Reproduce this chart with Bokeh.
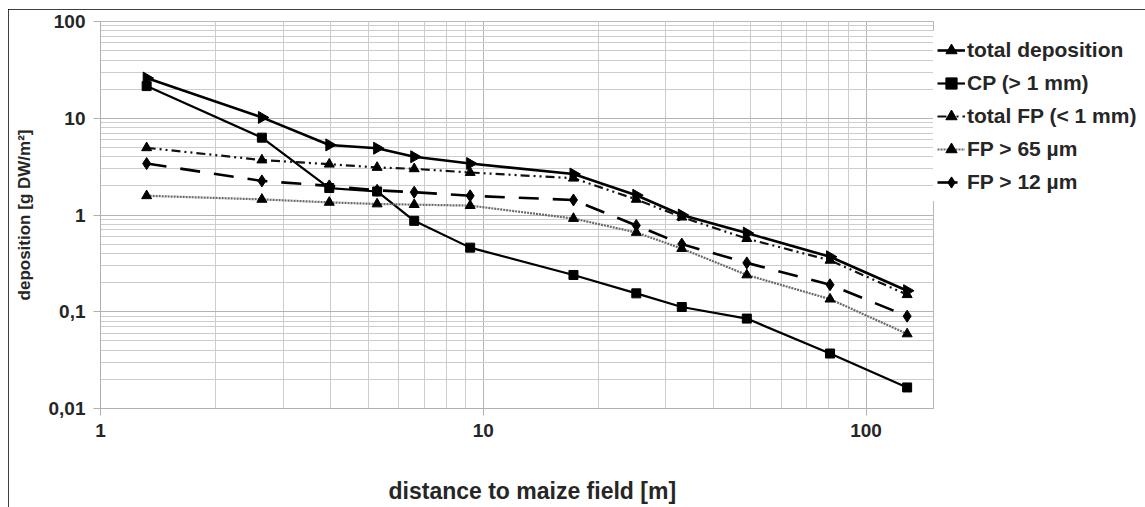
import math
from bokeh.plotting import figure
from bokeh.models import (FixedTicker, CustomJSTickFormatter, Legend, LegendItem,
                          Range1d, Title)
from bokeh.embed import file_html
from bokeh.resources import INLINE

# ---- data ----
distance = [1.32, 2.64, 3.96, 5.28, 6.6, 9.24, 17.2, 25.1, 33.0, 48.8, 80.5, 128]
total_deposition = [26, 10.2, 5.3, 4.9, 4.0, 3.4, 2.65, 1.6, 1.0, 0.65, 0.37, 0.165]
cp_gt_1mm = [21.5, 6.3, 1.9, 1.75, 0.87, 0.46, 0.24, 0.155, 0.112, 0.085, 0.037, 0.0165]
total_fp = [4.95, 3.7, 3.35, 3.1, 3.0, 2.75, 2.4, 1.45, 0.95, 0.57, 0.34, 0.15]
fp_gt_65 = [1.58, 1.45, 1.35, 1.3, 1.28, 1.25, 0.92, 0.66, 0.45, 0.24, 0.135, 0.059]
fp_gt_12 = [3.4, 2.25, 2.0, 1.8, 1.72, 1.58, 1.43, 0.78, 0.5, 0.32, 0.19, 0.09]

series_labels = ["total deposition", "CP (> 1 mm)", "total FP (< 1 mm)",
                 "FP > 65 µm", "FP > 12 µm"]
x_title = "distance to maize field [m]"
y_title = "deposition [g DW/m²]"
x_major = [1, 10, 100]
x_minor = [2, 3, 4, 5, 6, 7, 8, 9, 20, 30, 40, 50, 60, 70, 80, 90]
y_major = [0.01, 0.1, 1, 10, 100]
y_minor = [0.02, 0.03, 0.04, 0.05, 0.06, 0.07, 0.08, 0.09,
           0.2, 0.3, 0.4, 0.5, 0.6, 0.7, 0.8, 0.9,
           2, 3, 4, 5, 6, 7, 8, 9,
           20, 30, 40, 50, 60, 70, 80, 90]
x_lo, x_hi = 1, 150
y_lo, y_hi = 0.01, 100

FONT = "Liberation Sans"
TXT = "#262626"

p = figure(frame_width=833, frame_height=387,
           x_axis_type="log", y_axis_type="log",
           x_range=Range1d(x_lo, x_hi), y_range=Range1d(y_lo, y_hi),
           output_backend="svg", toolbar_location=None,
           min_border_left=92, min_border_right=208,
           min_border_top=12, min_border_bottom=99,
           y_axis_label=y_title)
p.margin = (9, 0, 0, 8)
p.styles = {"outline": "1px solid black", "outline-offset": "-1px"}
p.background_fill_color = "white"
p.border_fill_color = "white"
p.outline_line_color = "#b8b8b8"

p.xaxis.ticker = FixedTicker(ticks=x_major, minor_ticks=x_minor)
p.yaxis.ticker = FixedTicker(ticks=y_major, minor_ticks=y_minor)
p.xaxis.formatter = CustomJSTickFormatter(code="return tick.toString().replace('.', ',')")
p.yaxis.formatter = CustomJSTickFormatter(code="return tick.toString().replace('.', ',')")

for ax in (p.xaxis[0], p.yaxis[0]):
    ax.axis_line_color = "#b0b0b0"
    ax.major_tick_line_color = "#b0b0b0"
    ax.major_tick_out = 7
    ax.major_tick_in = 0
    ax.minor_tick_line_color = None
    ax.major_label_text_font = FONT
    ax.major_label_text_font_style = "bold"
    ax.major_label_text_font_size = "19px"
    ax.major_label_text_color = TXT
    ax.axis_label_text_font = FONT
    ax.axis_label_text_font_style = "bold"
    ax.axis_label_text_color = TXT
p.xaxis.major_label_standoff = 8
p.yaxis.major_label_standoff = 8
p.yaxis.axis_label_text_font_size = "17px"
p.yaxis.axis_label_standoff = 12

# x-axis title
xt = Title(text=x_title, align="left", offset=288, standoff=72,
           text_font=FONT, text_font_style="bold", text_font_size="23px",
           text_color=TXT)
p.add_layout(xt, "below")

for g in (p.xgrid[0], p.ygrid[0]):
    g.grid_line_color = "#b4b4b4"
    g.minor_grid_line_color = "#cdcdcd"

# ---- series ----
r1l = p.line(distance, total_deposition, line_color="black", line_width=2.6)
r1m = p.scatter(distance, total_deposition, marker="triangle", size=12,
                angle=-math.pi / 2, color="black")

r2l = p.line(distance, cp_gt_1mm, line_color="black", line_width=2.2)
r2m = p.scatter(distance, cp_gt_1mm, marker="square", size=9, color="black")

r3l = p.line(distance, total_fp, line_color="#111111", line_width=2.2,
             line_dash="9 4 2 4 2 4")
r3m = p.scatter(distance, total_fp, marker="triangle", size=10, color="black")

r4l = p.line(distance, fp_gt_65, line_color="#6a6a6a", line_width=2.2,
             line_dash="2 1")
r4m = p.scatter(distance, fp_gt_65, marker="triangle", size=10, color="black")

r5l = p.line(distance, fp_gt_12, line_color="black", line_width=2.6,
             line_dash="20 14")
r5m = p.scatter(distance, fp_gt_12, marker="diamond", size=12, color="black")

items = [
    LegendItem(label=series_labels[0], renderers=[r1l, r1m]),
    LegendItem(label=series_labels[1], renderers=[r2l, r2m]),
    LegendItem(label=series_labels[2], renderers=[r3l, r3m]),
    LegendItem(label=series_labels[3], renderers=[r4l, r4m]),
    LegendItem(label=series_labels[4], renderers=[r5l, r5m]),
]
legend = Legend(items=items, location=(0, 207),
                label_text_font=FONT, label_text_font_style="bold",
                label_text_font_size="21px", label_text_color=TXT,
                glyph_width=28, glyph_height=30, label_height=30,
                spacing=3, padding=4, margin=0, label_standoff=2,
                border_line_alpha=0, background_fill_color="white",
                background_fill_alpha=1)
p.add_layout(legend, "right")

open("out.html", "w").write(file_html(p, INLINE))
